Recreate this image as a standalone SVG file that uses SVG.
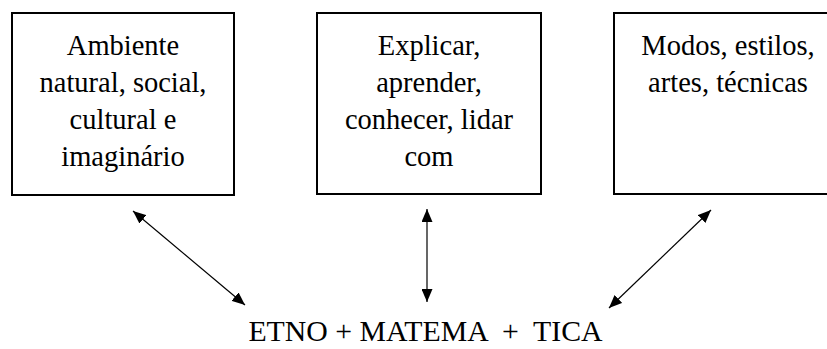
<svg xmlns="http://www.w3.org/2000/svg" width="827" height="349" viewBox="0 0 827 349">
<style>
.box{fill:#fff;stroke:#000;stroke-width:2}
.t{font-family:"Liberation Serif","Times New Roman",serif;font-size:28.5px;fill:#000;text-anchor:middle}
.c{stroke:#000;stroke-width:1.2;fill:none;marker-start:url(#ah);marker-end:url(#ah)}
</style>
<defs>
<marker id="ah" viewBox="0 0 13 11" refX="13" refY="5.5" markerWidth="13" markerHeight="11" markerUnits="userSpaceOnUse" orient="auto-start-reverse">
<path d="M0,0 L13,5.5 L0,11 Z" fill="#000"/>
</marker>
</defs>
<rect width="827" height="349" fill="#fff"/>
<g id="node-ambiente">
<rect class="box" x="12" y="13" width="222" height="182"/>
<text class="t" x="123" y="55">Ambiente</text>
<text class="t" x="123" y="92">natural, social,</text>
<text class="t" x="123" y="129">cultural e</text>
<text class="t" x="123" y="166">imaginário</text>
</g>
<g id="node-explicar">
<rect class="box" x="317" y="13" width="224" height="181"/>
<text class="t" x="429" y="55">Explicar,</text>
<text class="t" x="429" y="92">aprender,</text>
<text class="t" x="429" y="129">conhecer, lidar</text>
<text class="t" x="429" y="166">com</text>
</g>
<g id="node-modos">
<rect class="box" x="614" y="13" width="228" height="181"/>
<text class="t" x="728" y="55">Modos, estilos,</text>
<text class="t" x="728" y="92">artes, técnicas</text>
</g>
<g id="node-etno">
<text class="t" x="425.5" y="341" style="font-size:29.8px;white-space:pre">ETNO + MATEMA  +  TICA</text>
</g>
<g id="connectors">
<line class="c" x1="133" y1="211" x2="245" y2="305"/>
<line class="c" x1="427" y1="209" x2="427" y2="302"/>
<line class="c" x1="711" y1="210" x2="609" y2="308"/>
</g>
</svg>
